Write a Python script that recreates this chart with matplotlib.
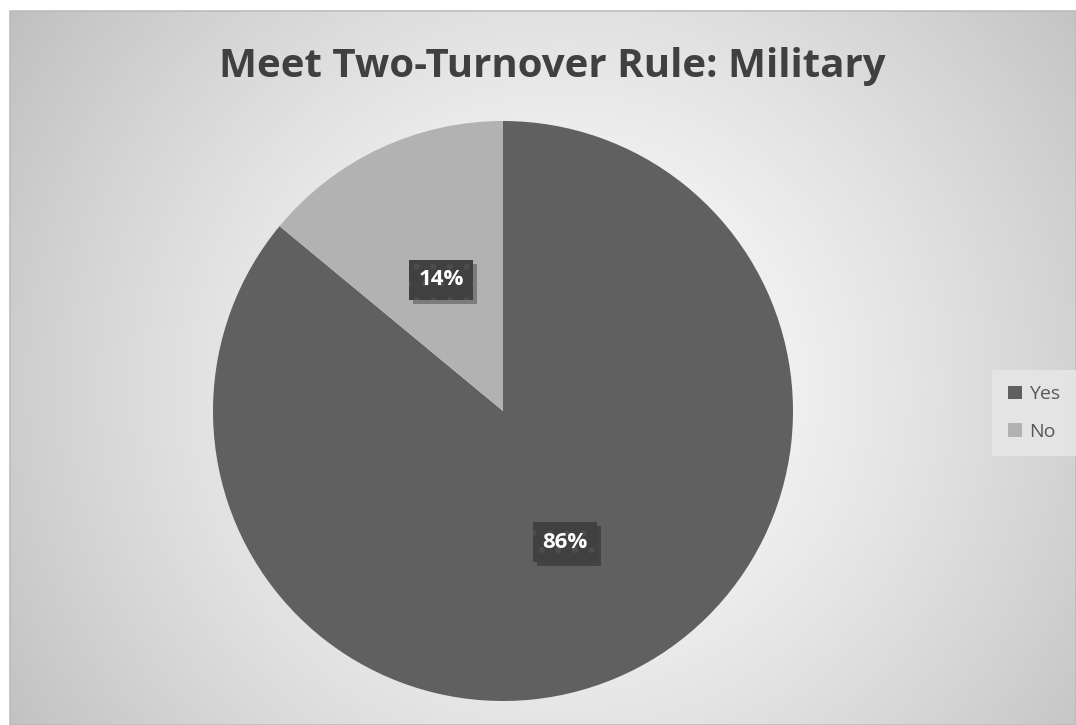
import numpy as np
import matplotlib.pyplot as plt
from matplotlib.patches import Patch, Rectangle

labels = ['Yes', 'No']
shares = [86, 14]
colors = ['#606060', '#b2b2b2']
title = 'Meet Two-Turnover Rule: Military'

W, H = 1076, 725
fig = plt.figure(figsize=(W / 100, H / 100), dpi=100)

# chart area with a radial gradient fill
bg = fig.add_axes([0, 0, 1, 1])
bg.set_xlim(0, W)
bg.set_ylim(H, 0)
bg.axis('off')
yy, xx = np.mgrid[0:H, 0:W]
d = np.hypot(xx - 560, yy - 380) / 700.0
shade = np.clip(1.0 - 0.26 * d ** 1.3, 0, 1)
img = np.dstack([shade, shade, shade])
bg.imshow(img, extent=[10, W, H, 11], origin='upper', aspect='auto', zorder=0)
bg.add_patch(Rectangle((10, 11), W - 10, H - 11, fill=False, ec='#bcbcbc', lw=1.2, zorder=1))

fig.text(552 / W, 1 - 67 / H, title, ha='center', va='center', fontsize=29,
         fontweight='bold', color='#404040', family='Open Sans')

cx, cy, r = 503, 411, 290
ax = fig.add_axes([(cx - r) / W, (H - cy - r) / H, 2 * r / W, 2 * r / H])
wedges, texts, autotexts = ax.pie(shares, colors=colors, startangle=90, counterclock=False,
                                  autopct='%d%%', pctdistance=0.5, radius=1,
                                  wedgeprops=dict(linewidth=0))
ax.set_xlim(-1, 1)
ax.set_ylim(-1, 1)
ax.set_aspect('equal')
ax.axis('off')

plt.rcParams['hatch.linewidth'] = 2.0
for t in autotexts:
    t.set_color('white')
    t.set_fontsize(16)
    t.set_fontweight('bold')
    t.set_family('Open Sans')
    t.set_zorder(3)
    t.set_bbox(dict(boxstyle='square,pad=0.42', fc='#404040', ec='#4c4c4c', lw=0, hatch='.'))

# drop shadows behind the label boxes
fig.canvas.draw()
for t in autotexts:
    ext = t.get_bbox_patch().get_window_extent()
    ax.add_patch(Rectangle((ext.x0 + 4, ext.y0 - 4), ext.width, ext.height,
                           transform=None, fc='#000000', ec='none', alpha=0.3, zorder=2))

handles = [Patch(facecolor=c, edgecolor='none') for c in colors]
leg = fig.legend(handles, labels, loc='center', bbox_to_anchor=(1034 / W, 1 - 413 / H),
                 frameon=True, handlelength=0.72, handleheight=0.72,
                 handletextpad=0.35, labelspacing=1.0, borderpad=0.8, fancybox=False,
                 prop={'family': 'Open Sans', 'size': 14})
leg.get_frame().set_facecolor('#e6e6e6')
leg.get_frame().set_edgecolor('none')
leg.get_frame().set_alpha(0.9)
for txt in leg.get_texts():
    txt.set_color('#595959')

fig.savefig('out.png', dpi=100)
